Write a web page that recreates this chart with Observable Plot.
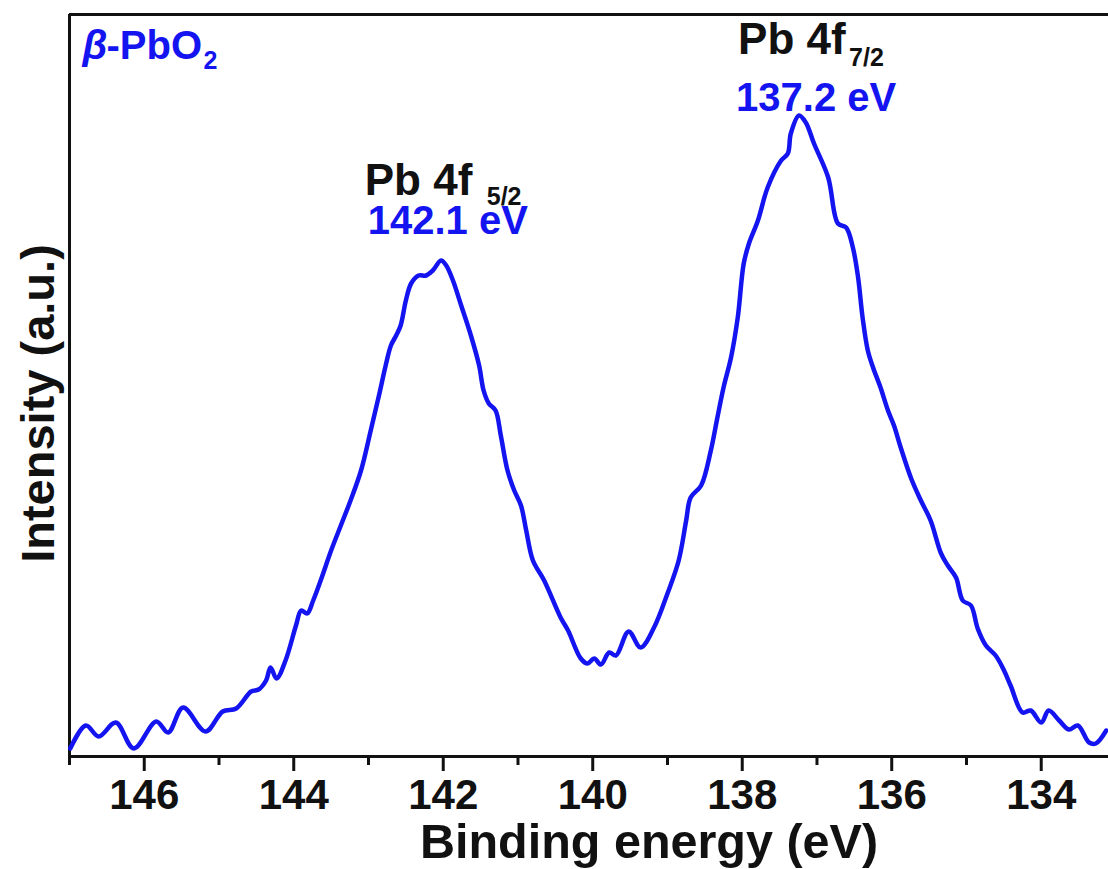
<!DOCTYPE html>
<html><head><meta charset="utf-8">
<script src="https://cdn.jsdelivr.net/npm/d3@7"></script>
<script src="https://cdn.jsdelivr.net/npm/@observablehq/plot@0.6"></script>
<style>html,body{margin:0;padding:0;background:#fff;overflow:hidden}</style>
</head><body><div id="chart"></div>
<script>
const energy = [146.99,146.78,146.61,146.38,146.14,145.84,145.68,145.48,145.18,144.95,144.77,144.57,144.47,144.37,144.31,144.23,144.11,143.97,143.90,143.82,143.74,143.64,143.50,143.37,143.24,143.10,142.97,142.86,142.77,142.70,142.63,142.57,142.50,142.43,142.33,142.23,142.14,142.03,141.96,141.87,141.76,141.63,141.52,141.46,141.39,141.30,141.23,141.14,141.05,140.96,140.89,140.80,140.65,140.43,140.33,140.16,140.07,139.98,139.89,139.78,139.69,139.52,139.36,139.18,139.00,138.85,138.75,138.69,138.55,138.42,138.34,138.25,138.15,138.06,137.98,137.91,137.79,137.66,137.48,137.39,137.35,137.24,137.15,137.04,136.85,136.72,136.61,136.52,136.45,136.39,136.32,136.25,136.15,136.05,135.97,135.88,135.74,135.61,135.48,135.34,135.25,135.14,135.05,134.94,134.85,134.74,134.61,134.51,134.41,134.25,134.14,134.00,133.90,133.76,133.63,133.51,133.36,133.27,133.13];
const intensity = [8,31,20,34,8,35,24,49,25,45,48,65,67,76,89,78,96,131,146,143,156,176,206,231,256,286,326,361,391,411,421,431,456,473,481,481,486,496,491,476,451,421,391,366,353,346,321,286,266,251,226,196,176,139,126,98,93,98,92,104,101,125,109,129,163,196,236,259,271,306,336,369,399,439,493,513,536,569,596,603,623,641,634,613,579,533,529,509,479,439,406,389,369,346,331,309,278,256,236,203,191,179,156,151,128,111,101,88,71,44,46,34,46,36,27,31,14,13,26];

const majorTicks = [146,144,142,140,138,136,134];
const minorTicks = [147,145,143,141,139,137,135];
const peakEnergy = [142.1, 137.2];
const peakIntensity = [496, 641];
const peakLabels = ["142.1 eV", "137.2 eV"];
const orbitalLabels = ["Pb 4f", "Pb 4f"];
const orbitalSubs = ["5/2", "7/2"];
const sampleParts = ["β", "-PbO", "2"];
const xTitle = "Binding energy (eV)";
const yTitle = "Intensity (a.u.)";

const blue = "#1414f0";
const data = energy.map((e, i) => ({energy: e, intensity: intensity[i]}));
const peaks = peakEnergy.map((e, i) => ({energy: e, intensity: peakIntensity[i]}));

const peakMarks = (i, o) => [
  Plot.text([peaks[i]], {x: "energy", y: "intensity", text: () => orbitalLabels[i], textAnchor: "start", lineAnchor: "bottom", dx: o.odx, dy: o.ody, fontSize: 44, fontWeight: "bold", fill: "#111"}),
  Plot.text([peaks[i]], {x: "energy", y: "intensity", text: () => orbitalSubs[i], textAnchor: "start", lineAnchor: "bottom", dx: o.sdx, dy: o.sdy, fontSize: 25, fontWeight: "bold", fill: "#111"}),
  Plot.text([peaks[i]], {x: "energy", y: "intensity", text: () => peakLabels[i], textAnchor: "start", lineAnchor: "bottom", dx: o.ldx, dy: o.ldy, fontSize: 40, fontWeight: "bold", fill: blue})
];

const chart = Plot.plot({
  width: 1108,
  height: 869,
  marginLeft: 69,
  marginRight: 0,
  marginTop: 14,
  marginBottom: 113,
  style: {fontFamily: "'Liberation Sans', Arial, sans-serif", fontSize: "42px", fontWeight: "bold", color: "#111", background: "#fff"},
  x: {domain: [147, 133.1], axis: null},
  y: {domain: [0, 742], axis: null},
  marks: [
    Plot.axisX({ticks: majorTicks, tickSize: 15, tickPadding: 8, strokeWidth: 3, fontSize: 42, fontWeight: "bold", label: null, tickFormat: d => d}),
    Plot.axisX({ticks: minorTicks, tickSize: 9, strokeWidth: 3, tickFormat: () => "", label: null}),
    Plot.ruleY([0], {stroke: "#111", strokeWidth: 3}),
    Plot.ruleY([742], {stroke: "#111", strokeWidth: 3}),
    Plot.ruleX([147], {stroke: "#111", strokeWidth: 3}),
    Plot.line(data, {x: "energy", y: "intensity", stroke: blue, strokeWidth: 4.5, curve: "catmull-rom"}),
    ...peakMarks(0, {odx: -71, ody: -66, sdx: 51, sdy: -56, ldx: -68, ldy: -27}),
    ...peakMarks(1, {odx: -64, ody: -62, sdx: 47, sdy: -50, ldx: -66, ldy: -5}),
    Plot.text([sampleParts[0]], {frameAnchor: "top-left", text: d => d, textAnchor: "start", lineAnchor: "bottom", dx: 13, dy: 44, fontSize: 40, fontWeight: "bold", fontStyle: "italic", fill: blue}),
    Plot.text([sampleParts[1]], {frameAnchor: "top-left", text: d => d, textAnchor: "start", lineAnchor: "bottom", dx: 37, dy: 44, fontSize: 40, fontWeight: "bold", fill: blue}),
    Plot.text([sampleParts[2]], {frameAnchor: "top-left", text: d => d, textAnchor: "start", lineAnchor: "bottom", dx: 134, dy: 54, fontSize: 25, fontWeight: "bold", fill: blue}),
    Plot.text([xTitle], {frameAnchor: "bottom", text: d => d, textAnchor: "middle", lineAnchor: "bottom", dx: 60, dy: 101, fontSize: 48.5, fontWeight: "bold", fill: "#111"}),
    Plot.text([yTitle], {frameAnchor: "left", text: d => d, textAnchor: "middle", lineAnchor: "bottom", rotate: -90, dx: -16, dy: 18, fontSize: 47, fontWeight: "bold", fill: "#111"})
  ]
});
document.getElementById("chart").appendChild(chart);
</script>
</body></html>
